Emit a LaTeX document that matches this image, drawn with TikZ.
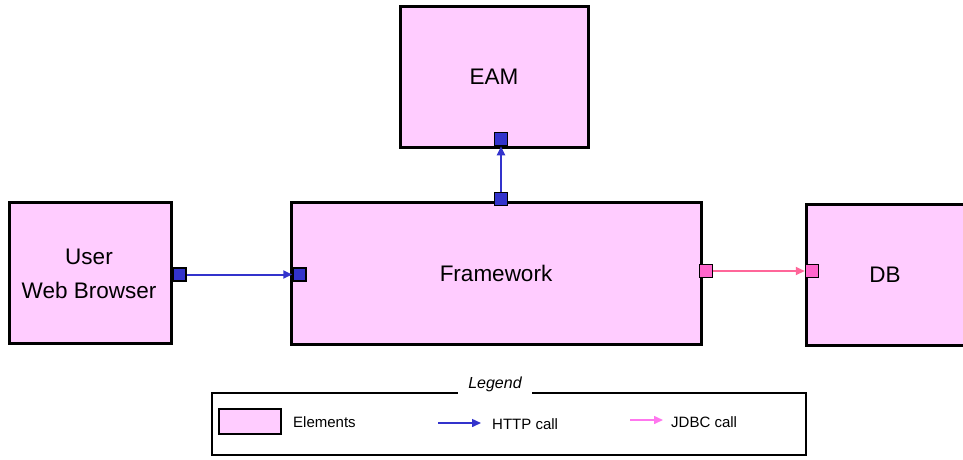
\documentclass[tikz,border=0pt]{standalone}
\usepackage{fontspec}
\setmainfont{Liberation Sans}
\usetikzlibrary{arrows.meta}
\definecolor{elemfill}{HTML}{FFCCFF}
\definecolor{portblue}{HTML}{3333CC}
\definecolor{portpink}{HTML}{FF66CC}
\definecolor{linepink}{HTML}{FF6699}
\definecolor{legpink}{HTML}{FF77EE}
\begin{document}
\begin{tikzpicture}[x=1pt,y=-1pt,
  elem/.style={draw=black, line width=3pt, fill=elemfill, anchor=north west, inner sep=0pt},
  lbl/.style={font=\fontsize{22.5}{34}\selectfont, align=center, inner sep=0pt},
  bport/.style={draw=black, line width=1.5pt, fill=portblue, minimum size=13pt, inner sep=0pt},
  pport/.style={draw=black, line width=1.5pt, fill=portpink, minimum size=13pt, inner sep=0pt},
  http/.style={draw=portblue, line width=2pt, -{Triangle[length=9pt,width=8pt]}},
  jdbc/.style={draw=linepink, line width=2pt, -{Triangle[length=9pt,width=8pt]}},
  legtxt/.style={font=\fontsize{15}{17}\selectfont, anchor=west, inner sep=0pt}]
\useasboundingbox (0,0) rectangle (963,459);
% elements (anchors are at the outer edge of the border)
\node[elem, minimum width=162pt, minimum height=141pt] (uwb) at (8,201) {};
\node[elem, minimum width=188pt, minimum height=141pt] (eam) at (399,5) {};
\node[elem, minimum width=410pt, minimum height=142pt] (fw) at (290,201) {};
\node[elem, minimum width=180pt, minimum height=141pt] (db) at (805,203) {};
% labels
\node[lbl] (uwbtxt) at (89,274) {User\\Web Browser};
\node[lbl] (eamtxt) at (494,77) {EAM};
\node[lbl] (fwtxt) at (496,273) {Framework};
\node[lbl] (dbtxt) at (885,275) {DB};
% ports
\node[bport] (p1) at (179.5,274.5) {};
\node[bport] (p2) at (299.5,274.5) {};
\node[bport] (p3) at (501,199) {};
\node[bport] (p4) at (501,139) {};
\node[pport] (p5) at (706,271) {};
\node[pport] (p6) at (812,271) {};
% connectors
\draw[http] (p1) -- (p2);
\draw[http] (p3) -- (p4);
\draw[jdbc] (p5) -- (p6);
% legend
\node[draw=black, line width=1.5pt, anchor=north west, minimum width=594pt, minimum height=62pt, inner sep=0pt] (legend) at (211,392) {};
\node[fill=white, inner xsep=10pt, inner ysep=3pt, font=\itshape\fontsize{16}{18}\selectfont] (legtitle) at (495,384) {Legend};
\node[draw=black, line width=1.5pt, fill=elemfill, anchor=north west, minimum width=62pt, minimum height=25pt, inner sep=0pt] (swatch) at (218,408) {};
\node[legtxt] (eltxt) at (293,422) {Elements};
\coordinate (h1) at (438,423);
\coordinate (h2) at (481,423);
\draw[http, line width=1.5pt] (h1) -- (h2);
\node[legtxt] (httptxt) at (492,424) {HTTP call};
\coordinate (j1) at (630,420);
\coordinate (j2) at (663,420);
\draw[jdbc, draw=legpink, line width=1.5pt] (j1) -- (j2);
\node[legtxt] (jdbctxt) at (671,422) {JDBC call};
\end{tikzpicture}
\end{document}
